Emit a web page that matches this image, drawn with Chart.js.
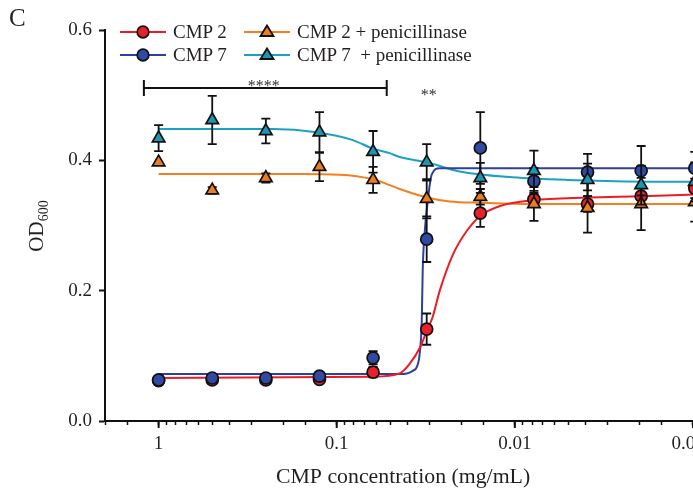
<!DOCTYPE html>
<html><head><meta charset="utf-8">
<script src="https://cdn.jsdelivr.net/npm/chart.js@4.4.1/dist/chart.umd.min.js"></script>
<style>
html,body{margin:0;padding:0;overflow:hidden;background:#fff;width:693px;height:491px;}
#wrap{position:absolute;left:0;top:0;width:710px;height:491px;}
.lbl{position:absolute;font-family:"Liberation Serif",serif;color:#231f20;white-space:pre;}
</style></head><body>
<div id="wrap"><canvas id="c"></canvas></div>
<div class="lbl" style="left:9px;top:4px;font-size:25px;line-height:28px;">C</div>
<div id="legend"></div>
<script>
// ---- data ----
const conc = [1, 0.5, 0.25, 0.125, 0.0625, 0.03125, 0.015625, 0.0078125, 0.00390625, 0.001953125, 0.0009765625];

const cmp2       = [0.062, 0.063, 0.063, 0.064, 0.075, 0.141, 0.319, 0.340, 0.333, 0.345, 0.357];
const cmp2Err    = [0.006, 0.006, 0.006, 0.005, 0.008, 0.024, 0.021, 0.010, 0.012, 0.012, 0.015];
const cmp7       = [0.063, 0.066, 0.066, 0.069, 0.097, 0.279, 0.419, 0.368, 0.382, 0.384, 0.388];
const cmp7Err    = [0.005, 0.005, 0.005, 0.006, 0.010, 0.035, 0.055, 0.020, 0.028, 0.038, 0.025];
const cmp2Pen    = [0.397, 0.354, 0.373, 0.390, 0.370, 0.341, 0.344, 0.333, 0.327, 0.333, 0.336];
const cmp2PenErr = [0.000, 0.005, 0.007, 0.022, 0.020, 0.030, 0.012, 0.026, 0.038, 0.040, 0.030];
const cmp7Pen    = [0.434, 0.462, 0.445, 0.443, 0.413, 0.397, 0.373, 0.384, 0.370, 0.362, 0.367];
const cmp7PenErr = [0.020, 0.037, 0.019, 0.031, 0.032, 0.028, 0.023, 0.031, 0.025, 0.030, 0.030];

// fitted curves
const fitConcRed = [1, 0.0628, 0.0443, 0.0389, 0.0342, 0.03125, 0.0289, 0.0264, 0.0223, 0.0188, 0.0156, 0.0121, 0.0079, 0.0039, 0.00195, 0.0009];
const fitRed     = [0.066, 0.068, 0.073, 0.088, 0.112, 0.138, 0.160, 0.200, 0.255, 0.290, 0.315, 0.330, 0.339, 0.343, 0.345, 0.348];
const fitConcBlue = [1, 0.0443, 0.0404, 0.0374, 0.0355, 0.0342, 0.0333, 0.0329, 0.0321, 0.0308, 0.0293, 0.0264, 0.0009];
const fitBlue     = [0.072, 0.072, 0.073, 0.077, 0.083, 0.104, 0.155, 0.232, 0.288, 0.339, 0.378, 0.388, 0.388];
const fitConcOrange = [1, 0.161, 0.0962, 0.0628, 0.0504, 0.0443, 0.03125, 0.0232, 0.0156, 0.0079, 0.0009];
const fitOrange     = [0.379, 0.379, 0.378, 0.371, 0.362, 0.356, 0.343, 0.337, 0.335, 0.333, 0.333];
const fitConcTeal = [1, 0.229, 0.1295, 0.0813, 0.0628, 0.0504, 0.0443, 0.03125, 0.0204, 0.0103, 0.0051, 0.00118, 0.0009];
const fitTeal     = [0.448, 0.448, 0.443, 0.431, 0.418, 0.411, 0.405, 0.397, 0.383, 0.374, 0.370, 0.367, 0.367];

const seriesNames = ['CMP 2', 'CMP 7', 'CMP 2 + penicillinase', 'CMP 7  + penicillinase'];
const xTickValues = [1, 0.1, 0.01, 0.001];
const xTickLabels = ['1', '0.1', '0.01', '0.001'];
const yTickLabels = ['0.0', '0.2', '0.4', '0.6'];

// ---- styles ----
const FONT = '"Liberation Serif", "Times New Roman", serif';
const TXT = '#231f20';
const C = {
  red:    {line:'#ec1c24', fill:'#e8202a'},
  blue:   {line:'#2e3f9c', fill:'#2f4aa0'},
  orange: {line:'#f47f20', fill:'#f07c1e'},
  teal:   {line:'#1ca1c0', fill:'#1c97b3'}
};
const pts = (xs, ys) => xs.map((x, i) => ({x, y: ys[i]}));

function fitDs(xs, ys, col, ord) {
  return {data: pts(xs, ys), showLine: true, borderColor: col, borderWidth: 2,
    pointRadius: 0, cubicInterpolationMode: 'monotone', fill: false, order: ord};
}
function markDs(label, ys, errs, col, style, ord) {
  return {label, data: pts(conc, ys), errors: errs, showLine: false,
    pointStyle: style, pointRadius: style === 'triangle' ? 7.2 : 6,
    backgroundColor: col, borderColor: '#111', borderWidth: 1.7, order: ord};
}

const datasets = [
  fitDs(fitConcRed, fitRed, C.red.line, 20),
  fitDs(fitConcBlue, fitBlue, C.blue.line, 21),
  fitDs(fitConcOrange, fitOrange, C.orange.line, 22),
  fitDs(fitConcTeal, fitTeal, C.teal.line, 23),
  markDs(seriesNames[0], cmp2, cmp2Err, C.red.fill, 'circle', 4),
  markDs(seriesNames[1], cmp7, cmp7Err, C.blue.fill, 'circle', 3),
  markDs(seriesNames[2], cmp2Pen, cmp2PenErr, C.orange.fill, 'triangle', 2),
  markDs(seriesNames[3], cmp7Pen, cmp7PenErr, C.teal.fill, 'triangle', 1)
];

const errorBars = {
  id: 'errorBars',
  beforeDatasetDraw(chart, args) {
    const ds = chart.data.datasets[args.index];
    if (!ds.errors) return;
    const ctx = chart.ctx, xs = chart.scales.x, ys = chart.scales.y;
    ctx.save();
    ctx.strokeStyle = '#111'; ctx.lineWidth = 1.8;
    ds.data.forEach((p, i) => {
      const e = ds.errors[i]; if (!e) return;
      const px = xs.getPixelForValue(p.x);
      const y1 = ys.getPixelForValue(p.y + e), y2 = ys.getPixelForValue(p.y - e);
      ctx.beginPath();
      ctx.moveTo(px, y1); ctx.lineTo(px, y2);
      ctx.moveTo(px - 4.5, y1); ctx.lineTo(px + 4.5, y1);
      ctx.moveTo(px - 4.5, y2); ctx.lineTo(px + 4.5, y2);
      ctx.stroke();
    });
    ctx.restore();
  }
};

const extras = {
  id: 'extras',
  afterDraw(chart) {
    const ctx = chart.ctx, xs = chart.scales.x, ys = chart.scales.y;
    ctx.save();
    // longer major ticks on x axis
    ctx.strokeStyle = '#111'; ctx.lineWidth = 2;
    xs.ticks.forEach(t => {
      if (!t.label) return;
      const px = xs.getPixelForValue(t.value);
      ctx.beginPath(); ctx.moveTo(px, xs.top); ctx.lineTo(px, xs.top + 7); ctx.stroke();
    });
    // significance bracket
    const bx1 = xs.getPixelForValue(1.21), bx2 = xs.getPixelForValue(0.0524);
    const by = ys.getPixelForValue(0.511);
    ctx.lineWidth = 2;
    ctx.beginPath();
    ctx.moveTo(bx1, by); ctx.lineTo(bx2, by);
    ctx.moveTo(bx1, by - 8); ctx.lineTo(bx1, by + 8);
    ctx.moveTo(bx2, by - 8); ctx.lineTo(bx2, by + 8);
    ctx.stroke();
    ctx.fillStyle = '#333';
    ctx.font = '16px ' + FONT;
    ctx.textAlign = 'center'; ctx.textBaseline = 'alphabetic';
    ctx.fillText('****', xs.getPixelForValue(0.257), by + 3);
    ctx.fillText('**', xs.getPixelForValue(0.0304), ys.getPixelForValue(0.4926));
    // y axis title with subscript
    ctx.fillStyle = TXT;
    ctx.translate(43, 226);
    ctx.rotate(-Math.PI / 2);
    ctx.textAlign = 'left';
    ctx.font = '21px ' + FONT;
    const w1 = ctx.measureText('OD').width;
    ctx.font = '14px ' + FONT;
    const w2 = ctx.measureText('600').width;
    const x0 = -(w1 + w2) / 2;
    ctx.font = '21px ' + FONT;
    ctx.fillText('OD', x0, 0);
    ctx.font = '14px ' + FONT;
    ctx.fillText('600', x0 + w1, 5);
    ctx.restore();
  }
};

new Chart(document.getElementById('c'), {
  type: 'scatter',
  data: {datasets},
  options: {
    responsive: true, maintainAspectRatio: false, animation: false,
    layout: {padding: {left: 0, right: 0, top: 30, bottom: 0}},
    plugins: {legend: {display: false}, tooltip: {enabled: false}},
    scales: {
      x: {
        type: 'logarithmic', reverse: true, min: 0.0009, max: 2,
        border: {color: '#111', width: 2},
        grid: {drawOnChartArea: false, drawTicks: true, tickLength: 4, tickColor: '#111', tickWidth: 1.5},
        ticks: {
          autoSkip: false, maxRotation: 0, padding: 8, color: TXT,
          font: {family: FONT, size: 19},
          callback: (v) => {
            const i = xTickValues.findIndex(t => Math.abs(Math.log10(v) - Math.log10(t)) < 1e-6);
            return i >= 0 ? xTickLabels[i] : '';
          }
        },
        title: {display: true, text: 'CMP concentration (mg/mL)', color: TXT,
          font: {family: FONT, size: 21.8}, padding: {top: 0, bottom: 1}},
        afterFit: s => { s.height = 70; s.paddingLeft = 0; s.paddingRight = 0; }
      },
      y: {
        min: 0, max: 0.6,
        border: {color: '#111', width: 2},
        grid: {drawOnChartArea: false, drawTicks: true, tickLength: 6, tickColor: '#111', tickWidth: 2},
        ticks: {stepSize: 0.2, padding: 7, color: TXT, font: {family: FONT, size: 19},
          callback: (v) => yTickLabels[Math.round(v / 0.2)] ?? ''},
        afterFit: s => { s.width = 105; }
      }
    }
  },
  plugins: [errorBars, extras]
});

// ---- legend (HTML) ----
const legendInfo = [
  {name: seriesNames[0], col: C.red, shape: 'circle', left: 120, yc: 32},
  {name: seriesNames[1], col: C.blue, shape: 'circle', left: 120, yc: 55},
  {name: seriesNames[2], col: C.orange, shape: 'triangle', left: 244, yc: 32},
  {name: seriesNames[3], col: C.teal, shape: 'triangle', left: 244, yc: 55}
];
const lg = document.getElementById('legend');
legendInfo.forEach(it => {
  const mark = it.shape === 'circle'
    ? `<circle cx="23" cy="9" r="5.8" fill="${it.col.fill}" stroke="#111" stroke-width="1.7"/>`
    : `<polygon points="23,2.5 29.5,13 16.5,13" fill="${it.col.fill}" stroke="#111" stroke-width="1.8" stroke-linejoin="miter"/>`;
  const svg = `<svg width="46" height="18" style="position:absolute;left:${it.left}px;top:${it.yc - 9}px">
    <line x1="0" y1="9" x2="46" y2="9" stroke="${it.col.line}" stroke-width="2"/>${mark}</svg>`;
  lg.insertAdjacentHTML('beforeend', svg +
    `<div class="lbl" style="left:${it.left + 53}px;top:${it.yc - 11}px;font-size:19px;line-height:22px;">${it.name}</div>`);
});
</script>
</body></html>
